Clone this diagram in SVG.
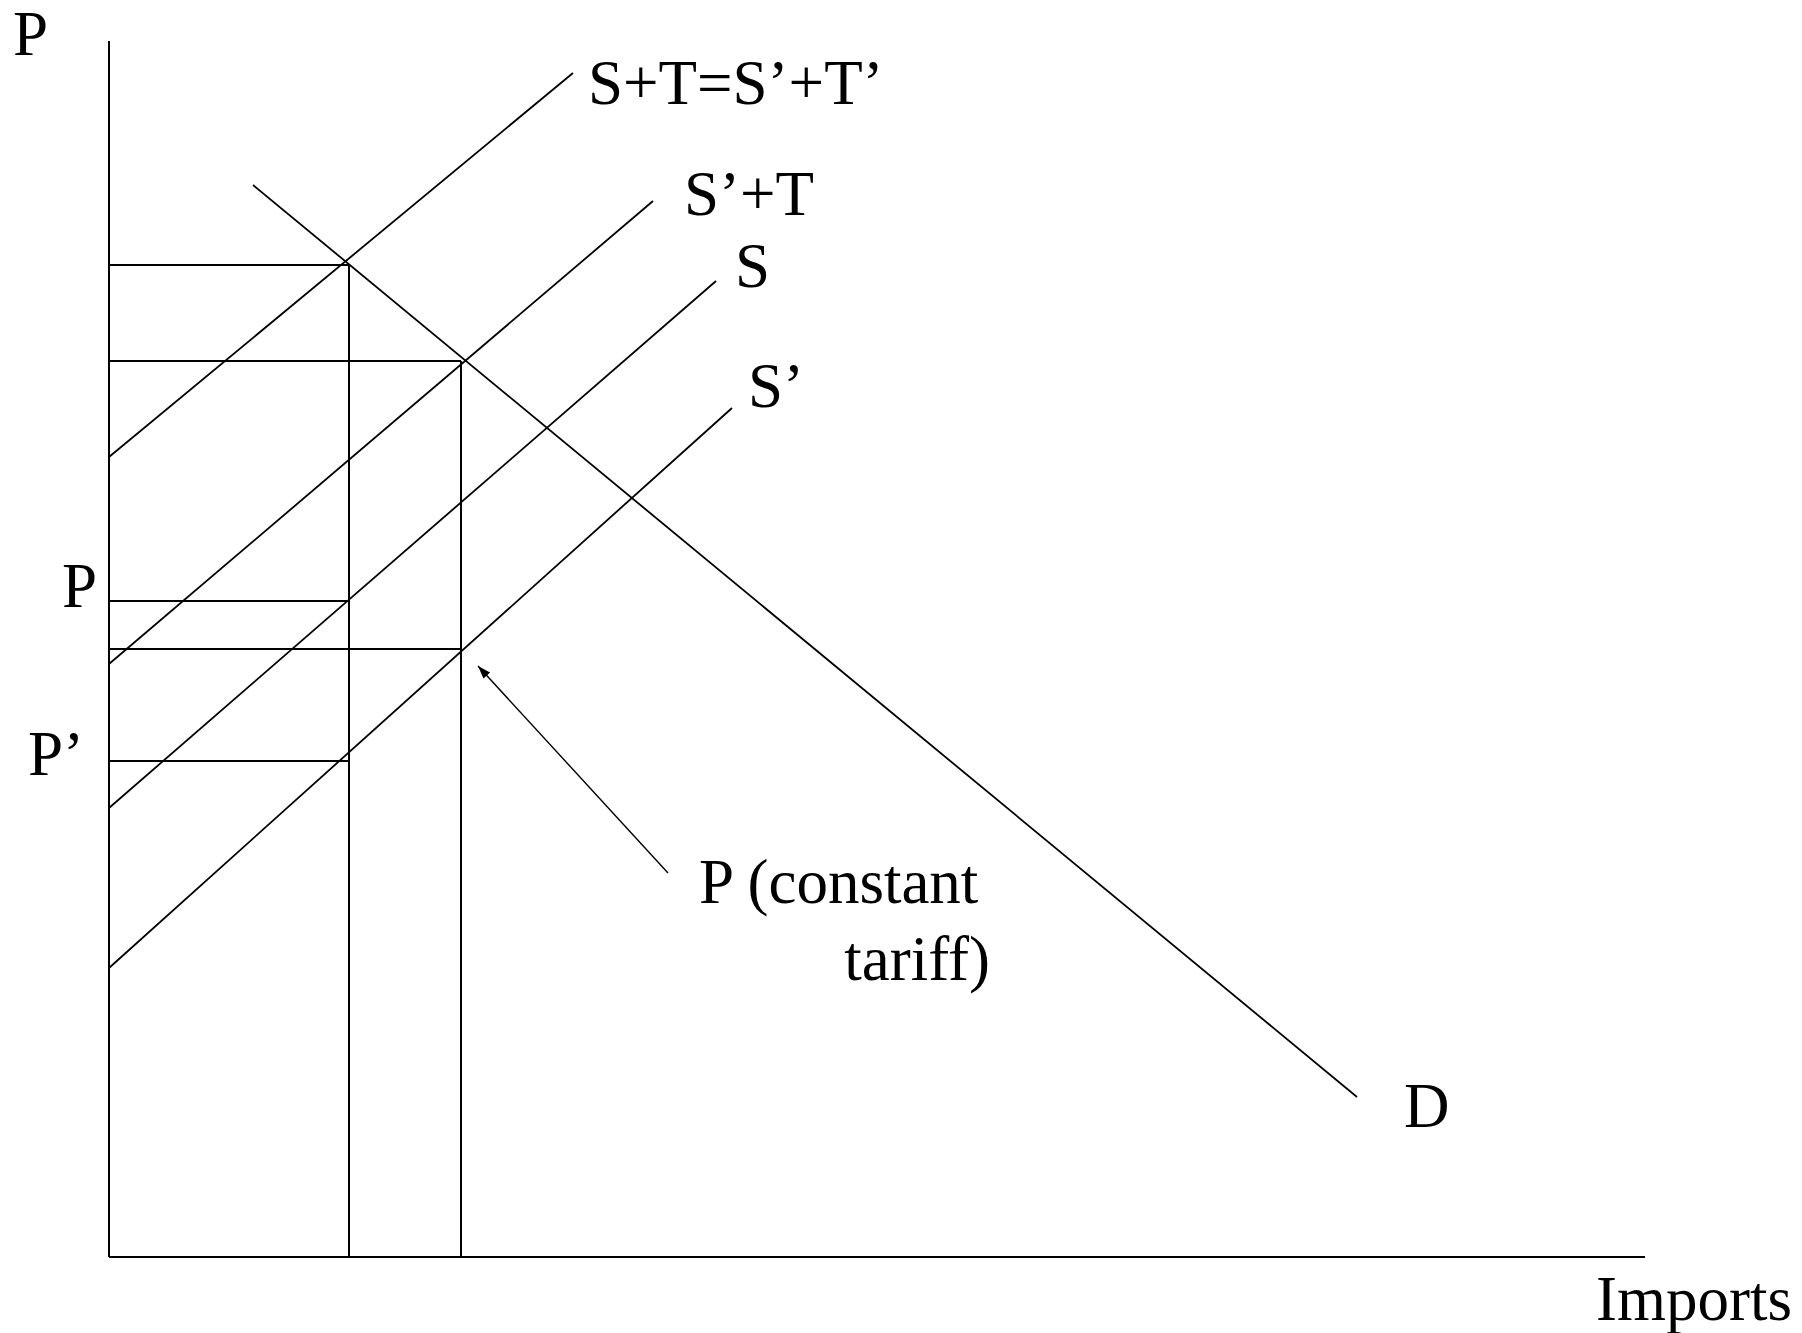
<svg xmlns="http://www.w3.org/2000/svg" width="1802" height="1333" viewBox="0 0 1802 1333">
<style>
  .ln { stroke: #000; stroke-width: 2; fill: none; stroke-linecap: butt; }
  .dg { stroke: #000; stroke-width: 1.8; fill: none; }
  .ar { stroke: #000; stroke-width: 1.4; fill: none; }
  .lb { font-family: "Liberation Serif", "Times New Roman", serif; font-size: 63px; fill: #000; }
</style>
<defs>
  <marker id="ah" viewBox="0 0 10 10" refX="10" refY="5" markerWidth="13" markerHeight="9" markerUnits="userSpaceOnUse" orient="auto" preserveAspectRatio="none">
    <path d="M0,0 L10,5 L0,10 z" fill="#000"/>
  </marker>
</defs>
<rect width="1802" height="1333" fill="#fff"/>
<g id="axes">
  <line class="ln" x1="109" y1="41" x2="109" y2="1257"/>
  <line class="ln" x1="109" y1="1257" x2="1645" y2="1257"/>
</g>
<g id="guides">
  <line class="ln" x1="109" y1="265" x2="349" y2="265"/>
  <line class="ln" x1="109" y1="361" x2="461" y2="361"/>
  <line class="ln" x1="109" y1="601" x2="349" y2="601"/>
  <line class="ln" x1="109" y1="649" x2="461" y2="649"/>
  <line class="ln" x1="109" y1="761" x2="349" y2="761"/>
  <line class="ln" x1="349" y1="265" x2="349" y2="1257"/>
  <line class="ln" x1="461" y1="361" x2="461" y2="1257"/>
</g>
<g id="curves">
  <line id="ST" class="dg" x1="109" y1="457" x2="573" y2="73"/>
  <line id="SpT" class="dg" x1="109" y1="664" x2="653" y2="201"/>
  <line id="S" class="dg" x1="109" y1="808" x2="716" y2="281"/>
  <line id="Sp" class="dg" x1="109" y1="968" x2="732" y2="408"/>
  <line id="D" class="dg" x1="253" y1="185" x2="1357" y2="1097"/>
</g>
<g id="connectors">
  <line class="ar" x1="668" y1="873" x2="478" y2="666" marker-end="url(#ah)"/>
</g>
<g id="labels">
  <text class="lb" x="13" y="55">P</text>
  <text class="lb" x="588" y="104">S+T=S’+T’</text>
  <text class="lb" x="684" y="215">S’+T</text>
  <text class="lb" x="735" y="287">S</text>
  <text class="lb" x="748" y="407">S’</text>
  <text class="lb" x="62" y="607">P</text>
  <text class="lb" x="28" y="775">P’</text>
  <text class="lb" x="699" y="903">P (constant</text>
  <text class="lb" x="990" y="980" text-anchor="end">tariff)</text>
  <text class="lb" x="1404" y="1127">D</text>
  <text class="lb" x="1596" y="1320">Imports</text>
</g>
</svg>
